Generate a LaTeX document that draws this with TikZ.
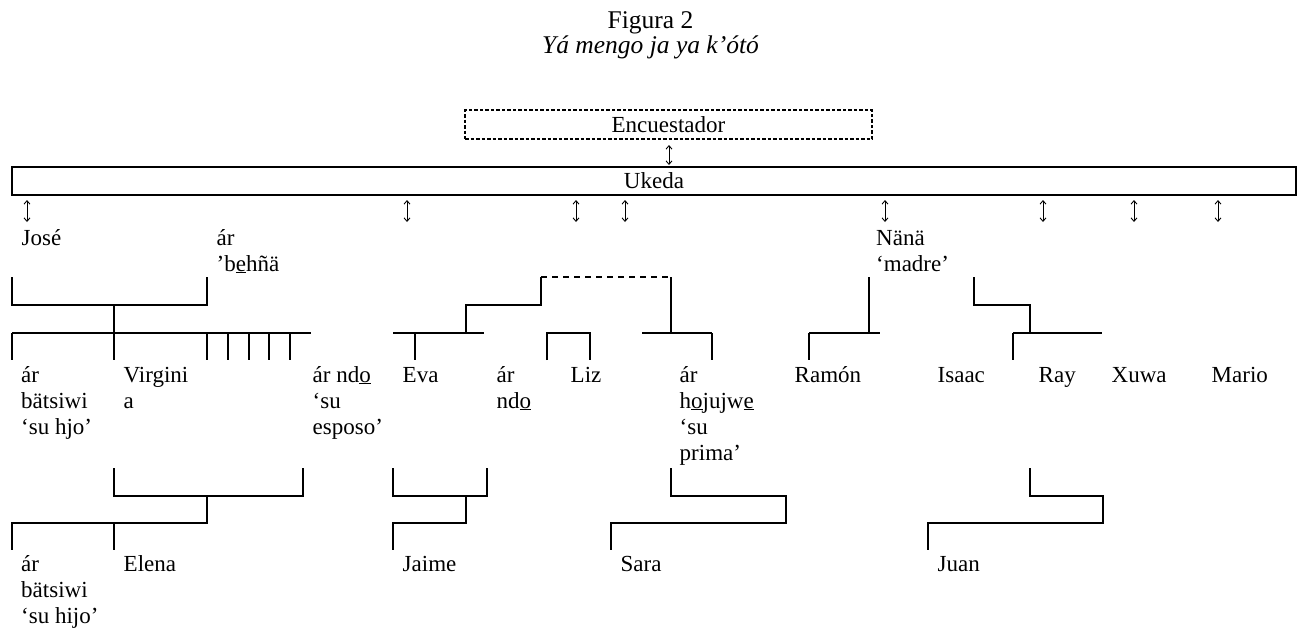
\documentclass[tikz,border=0pt]{standalone}
\usepackage{fontspec}
\setmainfont{Liberation Serif}
\usetikzlibrary{arrows.meta}
\newcommand{\stk}[1]{\begin{tabular}[t]{@{}l@{}}#1\end{tabular}}
\begin{document}
\begin{tikzpicture}[x=1pt,y=-1pt,
  lab/.style={anchor=base west, inner sep=0pt, font=\fontsize{23}{26}\selectfont},
  ttl/.style={anchor=base, inner sep=0pt, font=\fontsize{25.5}{28}\selectfont},
  ln/.style={line width=2.6pt, line join=miter},
  dln/.style={line width=2.6pt, dash pattern=on 6pt off 5pt},
  ud/.style={line width=0.9pt, {Straight Barb[length=3.5pt,width=6pt]}-{Straight Barb[length=3.5pt,width=6pt]}},
  boxnode/.style={draw, inner sep=0pt, text height=15.7pt, text depth=0pt, font=\fontsize{23}{26}\selectfont}]
\useasboundingbox (0,0) rectangle (1301,632);

% titles
\node[ttl] (t1) at (650.5,28) {Figura 2};
\node[ttl, font=\fontsize{25.5}{28}\selectfont\itshape] (t2) at (650.5,53) {Yá mengo ja ya k’ótó};

% boxes
\node[boxnode, line width=1.8pt, dash pattern=on 3.5pt off 2pt, minimum width=407pt, minimum height=29pt] (enc) at (668.5,124.5) {Encuestador};
\node[boxnode, line width=2.6pt, minimum width=1284pt, minimum height=28pt] (uk) at (654,181) {Ukeda};
\coordinate (a1) at (669,145);
\coordinate (a2) at (669,165);
\draw[ud] (a1) -- (a2);

% arrows below Ukeda
\foreach \x in {27,407,576,625,885,1043,1134,1218}
  \draw[ud] (\x,200) -- (\x,222);

% first row texts
\node[lab] (jose) at (21.5,245) {José};
\node[lab] (behna) at (216.5,245) {\stk{ár\\’b\underline{e}hñä}};
\node[lab] (nana) at (876,245) {\stk{Nänä\\‘madre’}};

% second row texts
\node[lab] (hijo1) at (21,382) {\stk{ár\\bätsiwi\\‘su hjo’}};
\node[lab] (virg) at (123.5,382) {\stk{Virgini\\a}};
\node[lab] (esposo) at (312.5,382) {\stk{ár nd\underline{o}\\‘su\\esposo’}};
\node[lab] (eva) at (402.5,382) {Eva};
\node[lab] (ndo) at (496.5,382) {\stk{ár\\nd\underline{o}}};
\node[lab] (liz) at (570.5,382) {Liz};
\node[lab] (prima) at (679.5,382) {\stk{ár\\h\underline{o}jujw\underline{e}\\‘su\\prima’}};
\node[lab] (ramon) at (794.5,382) {Ramón};
\node[lab] (isaac) at (937.5,382) {Isaac};
\node[lab] (ray) at (1038.5,382) {Ray};
\node[lab] (xuwa) at (1111.5,382) {Xuwa};
\node[lab] (mario) at (1211.5,382) {Mario};

% third row texts
\node[lab] (hijo2) at (21,571) {\stk{ár\\bätsiwi\\‘su hijo’}};
\node[lab] (elena) at (123.5,571) {Elena};
\node[lab] (jaime) at (402.5,571) {Jaime};
\node[lab] (sara) at (620.5,571) {Sara};
\node[lab] (juan) at (937.5,571) {Juan};

% Jose family
\draw[ln] (12,277) -- (12,305) -- (207,305) -- (207,277);
\draw[ln] (114,305) -- (114,333);
\draw[ln] (12,333) -- (311,333);
\foreach \x in {12,114,207,228,249,269,290}
  \draw[ln] (\x,333) -- (\x,360);

% Eva / Liz / prima
\draw[ln] (393,333) -- (484,333);
\draw[ln] (415,333) -- (415,360);
\draw[ln] (466,333) -- (466,305) -- (541,305) -- (541,277);
\draw[dln] (541,277) -- (671,277);
\draw[ln] (671,277) -- (671,333);
\draw[ln] (642,333) -- (712,333);
\draw[ln] (712,333) -- (712,360);
\draw[ln] (547,360) -- (547,333) -- (590,333) -- (590,360);

% Nana
\draw[ln] (869,277) -- (869,333);
\draw[ln] (809,333) -- (880,333);
\draw[ln] (809,333) -- (809,360);
\draw[ln] (974,277) -- (974,305) -- (1030,305) -- (1030,333);
\draw[ln] (1013,333) -- (1102,333);
\draw[ln] (1013,333) -- (1013,360);

% lower brackets
\draw[ln] (114,468) -- (114,496) -- (303,496) -- (303,468);
\draw[ln] (207,496) -- (207,523) -- (12,523) -- (12,550);
\draw[ln] (114,523) -- (114,550);

\draw[ln] (393,468) -- (393,496) -- (487,496) -- (487,468);
\draw[ln] (466,496) -- (466,523) -- (393,523) -- (393,550);

\draw[ln] (671,468) -- (671,496) -- (786,496) -- (786,523) -- (611,523) -- (611,550);

\draw[ln] (1030,468) -- (1030,496) -- (1103,496) -- (1103,523) -- (928,523) -- (928,550);
\end{tikzpicture}
\end{document}
